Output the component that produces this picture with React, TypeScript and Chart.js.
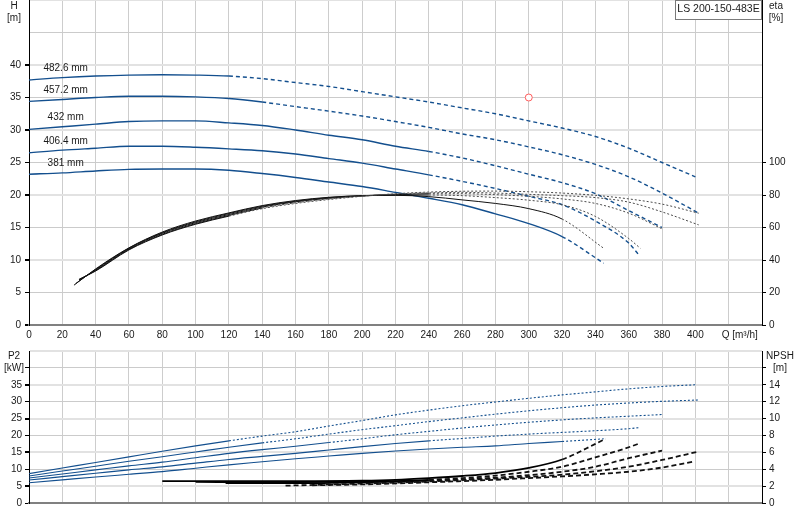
import { useEffect, useRef } from 'react'
import { Chart, registerables } from 'chart.js'
import type { ChartOptions, Plugin } from 'chart.js'

Chart.register(...registerables)

// 葉輪直徑 (from largest to smallest)
const DIAMETERS = ['482.6 mm', '457.2 mm', '432 mm', '406.4 mm', '381 mm']
const PUMP_NAME = 'LS 200-150-483E'

// Q [m³/h] for the H and P2 curves
const Q_482 = [0, 20, 40, 60, 80, 100, 120, 140, 160, 180, 200, 220, 240, 260, 280, 300, 320, 340, 360, 380, 400]
const Q_457 = [0, 20, 40, 60, 80, 100, 120, 140, 160, 180, 200, 220, 240, 260, 280, 300, 320, 340, 360, 380, 402]
const Q_432 = [0, 20, 40, 60, 80, 100, 120, 140, 160, 180, 200, 220, 240, 260, 280, 300, 320, 340, 360, 380]
const Q_406 = [0, 20, 40, 60, 80, 100, 120, 140, 160, 180, 200, 220, 240, 260, 280, 300, 320, 340, 360, 366]
const Q_381 = [0, 20, 40, 60, 80, 100, 120, 140, 160, 180, 200, 220, 240, 260, 280, 300, 320, 345]

// H [m]
const H_482 = [37.7, 38.05, 38.3, 38.45, 38.5, 38.45, 38.3, 37.9, 37.3, 36.7, 35.9, 35.1, 34.3, 33.4, 32.5, 31.4, 30.3, 29.0, 27.2, 25.0, 22.8]
const H_457 = [34.4, 34.7, 35.0, 35.2, 35.2, 35.1, 34.85, 34.3, 33.6, 32.9, 32.15, 31.3, 30.4, 29.4, 28.5, 27.4, 26.2, 24.7, 22.8, 20.3, 17.2]
const H_432 = [30.1, 30.5, 30.9, 31.3, 31.4, 31.4, 31.1, 30.7, 30.0, 29.2, 28.5, 27.5, 26.7, 25.7, 24.5, 23.2, 21.9, 20.2, 17.6, 15.0]
const H_406 = [26.5, 26.9, 27.2, 27.5, 27.5, 27.35, 27.1, 26.8, 26.3, 25.6, 24.9, 24.0, 23.1, 22.1, 21.0, 19.8, 18.5, 16.0, 12.6, 10.8]
const H_381 = [23.2, 23.4, 23.7, 23.95, 24.0, 24.0, 23.8, 23.3, 22.7, 22.0, 21.3, 20.4, 19.5, 18.5, 17.1, 15.6, 13.6, 9.5]

// P2 [kW]
const P2_482 = [8.7, 10.35, 12.0, 13.65, 15.3, 16.9, 18.4, 19.8, 21.1, 22.8, 24.4, 26.1, 27.5, 28.8, 29.9, 31.0, 32.0, 32.9, 33.8, 34.5, 35.0]
const P2_457 = [8.0, 9.45, 10.9, 12.35, 13.7, 15.1, 16.5, 17.8, 19.0, 20.4, 21.7, 22.9, 24.1, 25.2, 26.3, 27.3, 28.2, 29.0, 29.6, 30.1, 30.5]
const P2_432 = [7.4, 8.6, 9.8, 11.0, 12.1, 13.4, 14.7, 15.8, 16.8, 17.9, 19.0, 20.2, 21.2, 22.2, 23.1, 23.9, 24.6, 25.2, 25.7, 26.2]
const P2_406 = [6.8, 7.8, 8.8, 9.8, 10.7, 11.8, 12.9, 13.8, 14.7, 15.7, 16.7, 17.6, 18.4, 19.1, 19.8, 20.4, 20.9, 21.4, 22.0, 22.3]
const P2_381 = [6.0, 6.85, 7.7, 8.5, 9.3, 10.3, 11.3, 12.2, 13.1, 13.9, 14.7, 15.4, 16.0, 16.5, 16.9, 17.6, 18.2, 19.0]

// eta [%]
const ETA_Q_482 = [30, 40, 60, 80, 100, 120, 140, 160, 180, 200, 220, 240, 260, 280, 300, 320, 340, 360, 380, 402]
const ETA_482 = [28, 33.2, 46.2, 55.4, 62.0, 67.0, 71.6, 74.8, 77.2, 79.2, 80.8, 81.8, 82.3, 82.4, 82.0, 81.2, 79.8, 77.6, 74.4, 68.8]
const ETA_Q_457 = [30, 40, 60, 80, 100, 120, 140, 160, 180, 200, 220, 240, 260, 280, 300, 320, 340, 360, 380, 402]
const ETA_457 = [28, 33.5, 46.6, 55.8, 62.4, 67.4, 72.0, 75.2, 77.6, 79.4, 80.6, 81.3, 81.6, 81.2, 80.4, 79.6, 78.4, 75.6, 69.6, 61.6]
const ETA_Q_432 = [30, 40, 60, 80, 100, 120, 140, 160, 180, 200, 220, 240, 260, 280, 300, 320, 340, 360, 380]
const ETA_432 = [27.5, 33.8, 47.0, 56.4, 63.0, 68.0, 72.6, 75.8, 78.0, 79.4, 80.2, 80.8, 80.8, 80.2, 79.2, 77.6, 74.8, 68.8, 59.2]
const ETA_Q_406 = [28, 40, 60, 80, 100, 120, 140, 160, 180, 200, 220, 240, 260, 280, 300, 320, 340, 360, 367]
const ETA_406 = [25.5, 34.2, 47.3, 56.8, 63.5, 68.6, 73.1, 76.2, 78.4, 79.6, 80.0, 80.0, 79.6, 78.4, 76.8, 74.0, 66.8, 53.2, 47.2]
const ETA_Q_381 = [27, 40, 60, 80, 100, 120, 140, 160, 180, 200, 220, 240, 260, 280, 300, 320, 345]
const ETA_381 = [24.5, 34.5, 47.5, 57.2, 64.0, 69.0, 73.5, 76.6, 78.6, 79.6, 79.8, 79.0, 77.0, 74.8, 71.6, 65.2, 47.2]

// NPSH [m]
const NPSH_Q_482 = [170, 200, 240, 280, 300, 320, 340, 360, 380, 399]
const NPSH_482 = [2.1, 2.2, 2.45, 2.75, 2.95, 3.15, 3.4, 3.7, 4.2, 4.9]
const NPSH_Q_457 = [154, 200, 240, 280, 300, 320, 340, 360, 380, 402]
const NPSH_457 = [2.05, 2.3, 2.55, 2.9, 3.1, 3.35, 3.76, 4.3, 5.1, 6.1]
const NPSH_Q_432 = [118, 160, 200, 240, 280, 300, 320, 340, 360, 380]
const NPSH_432 = [2.35, 2.35, 2.45, 2.65, 3.0, 3.3, 3.7, 4.3, 5.3, 6.2]
const NPSH_Q_406 = [100, 140, 180, 220, 240, 260, 280, 300, 320, 340, 360, 367]
const NPSH_406 = [2.5, 2.45, 2.5, 2.6, 2.75, 2.95, 3.25, 3.7, 4.3, 5.4, 6.6, 7.1]
const NPSH_Q_381 = [80, 120, 160, 200, 220, 240, 260, 280, 300, 320, 340, 346]
const NPSH_381 = [2.6, 2.6, 2.6, 2.65, 2.75, 2.95, 3.2, 3.55, 4.15, 5.15, 7.0, 7.6]

// end of the solid (allowed) part of each curve, Q [m³/h]
const SOLID_TO = [120, 130, 240, 222, 320]
const P2_SOLID_TO = [120, 128, 178, 222, 320]

// duty point
const DUTY_Q = [300]
const DUTY_H = [35]

const H_Q = [Q_482, Q_457, Q_432, Q_406, Q_381]
const H_V = [H_482, H_457, H_432, H_406, H_381]
const P2_V = [P2_482, P2_457, P2_432, P2_406, P2_381]
const ETA_Q = [ETA_Q_482, ETA_Q_457, ETA_Q_432, ETA_Q_406, ETA_Q_381]
const ETA_V = [ETA_482, ETA_457, ETA_432, ETA_406, ETA_381]
const NPSH_Q = [NPSH_Q_482, NPSH_Q_457, NPSH_Q_432, NPSH_Q_406, NPSH_Q_381]
const NPSH_V = [NPSH_482, NPSH_457, NPSH_432, NPSH_406, NPSH_381]

const BLUE = '#134f8e'
const FAMILY = "'Liberation Sans', Arial, sans-serif"
const TEXT = '#1a1a1a'
const TICK_FONT = { family: FAMILY, size: 10 }

const pts = (q: number[], v: number[]) => q.map((x, i) => ({ x, y: v[i] }))

function curve(
  q: number[],
  v: number[],
  limit: number,
  axis: string,
  solid: string,
  dashed: string,
  width: number,
  dash: number[],
) {
  return {
    data: pts(q, v),
    yAxisID: axis,
    borderColor: solid,
    borderWidth: width,
    pointRadius: 0,
    fill: false,
    cubicInterpolationMode: 'monotone' as const,
    segment: {
      borderDash: (c: any) => (c.p0.parsed.x >= limit ? dash : undefined),
      borderColor: (c: any) => (c.p0.parsed.x >= limit ? dashed : undefined),
    },
  }
}

const xAxis = (height: number, labels: boolean): any => ({
  type: 'linear',
  min: 0,
  max: 440,
  ticks: {
    display: labels,
    stepSize: 20,
    autoSkip: false,
    maxRotation: 0,
    padding: 4,
    color: TEXT,
    font: TICK_FONT,
    callback: (v: any) => (v <= 400 ? String(v) : ''),
  },
  grid: { color: '#cdcdcd', lineWidth: 1, drawTicks: false },
  border: { color: '#808080', width: 2 },
  afterFit: (s: any) => {
    s.height = height
    s.paddingLeft = 0
    s.paddingRight = 0
  },
})

const yAxis = (
  position: 'left' | 'right',
  max: number,
  step: number,
  lastLabel: number,
  width: number,
  padding: number,
  onChart: boolean,
  thick: (v: number) => boolean,
  markTo: number,
): any => ({
  position,
  min: 0,
  max,
  ticks: {
    stepSize: step,
    padding,
    color: TEXT,
    font: TICK_FONT,
    callback: (v: any) => (v <= lastLabel ? String(v) : ''),
  },
  grid: {
    drawOnChartArea: onChart,
    tickLength: 4,
    tickColor: (c: any) => (c.tick && c.tick.value <= markTo ? '#000' : 'rgba(0,0,0,0)'),
    color: (c: any) => (c.tick && thick(c.tick.value) ? '#e2e2e2' : '#cbcbcb'),
    lineWidth: (c: any) => (c.tick && thick(c.tick.value) ? 2 : 1),
  },
  border: { color: '#000', width: 1 },
  afterFit: (s: any) => {
    s.width = width
    s.paddingTop = 0
    s.paddingBottom = 0
  },
})

const topText: Plugin = {
  id: 'topText',
  afterDraw(chart) {
    const { ctx, chartArea } = chart
    const x = chart.scales.x
    const y = chart.scales.y
    ctx.save()
    ctx.font = `10px ${FAMILY}`
    ctx.fillStyle = TEXT
    ctx.textAlign = 'center'
    ctx.textBaseline = 'middle'
    ctx.fillText('H', chartArea.left - 15, chartArea.top + 6)
    ctx.fillText('[m]', chartArea.left - 15, chartArea.top + 18)
    ctx.fillText('eta', chartArea.right + 14, chartArea.top + 6)
    ctx.fillText('[%]', chartArea.right + 14, chartArea.top + 18)

    // curve names, a little above each H curve at Q = 22
    H_V.forEach((h, i) => {
      const v = h[1] + (h[2] - h[1]) * 0.1
      ctx.fillText(DIAMETERS[i], x.getPixelForValue(22), y.getPixelForValue(v) - 9)
    })

    ctx.textAlign = 'left'
    ctx.fillText('Q [m³/h]', x.getPixelForValue(420) - 7, chartArea.bottom + 10)

    // pump name box
    const bw = 87
    const bh = 19
    ctx.fillStyle = '#fff'
    ctx.fillRect(chartArea.right - bw, chartArea.top, bw, bh)
    ctx.strokeStyle = '#7a7a7a'
    ctx.lineWidth = 1
    ctx.strokeRect(chartArea.right - bw + 0.5, chartArea.top + 0.5, bw - 1, bh)
    ctx.fillStyle = TEXT
    ctx.font = `10.5px ${FAMILY}`
    ctx.textAlign = 'center'
    ctx.fillText(PUMP_NAME, chartArea.right - bw / 2, chartArea.top + 9)
    ctx.restore()
  },
}

const bottomText: Plugin = {
  id: 'bottomText',
  afterDraw(chart) {
    const { ctx, chartArea } = chart
    const y = chart.scales.y
    const n = chart.scales.npsh
    ctx.save()
    ctx.font = `10px ${FAMILY}`
    ctx.fillStyle = TEXT
    ctx.textAlign = 'center'
    ctx.textBaseline = 'middle'
    ctx.fillText('P2', chartArea.left - 15, chartArea.top + 5)
    ctx.fillText('[kW]', chartArea.left - 15, y.getPixelForValue(40))
    ctx.fillText('NPSH', chartArea.right + 18, chartArea.top + 5)
    ctx.fillText('[m]', chartArea.right + 18, n.getPixelForValue(16))
    ctx.restore()
  },
}

function TopChart() {
  const chartRef = useRef<HTMLCanvasElement>(null)
  const chartInstance = useRef<Chart | null>(null)

  useEffect(() => {
    if (!chartRef.current) return
    if (chartInstance.current) chartInstance.current.destroy()
    const ctx = chartRef.current.getContext('2d')
    if (!ctx) return

    const etaSets = ETA_V.map((v, i) =>
      curve(ETA_Q[i], v, SOLID_TO[i], 'eta', '#111', '#4a4a4a', 1, [2, 2]),
    )
    const hSets = H_V.map((v, i) =>
      curve(H_Q[i], v, SOLID_TO[i], 'y', BLUE, BLUE, 1.4, [4, 3]),
    )
    const duty = {
      data: pts(DUTY_Q, DUTY_H),
      yAxisID: 'y',
      showLine: false,
      pointRadius: 3.5,
      pointBorderWidth: 1,
      pointBorderColor: '#ff5b5b',
      pointBackgroundColor: '#fff',
      borderColor: '#ff5b5b',
    }

    const options: ChartOptions = {
      responsive: true,
      maintainAspectRatio: false,
      animation: false,
      events: [],
      layout: { padding: 0, autoPadding: false },
      plugins: { legend: { display: false }, tooltip: { enabled: false } },
      scales: {
        x: xAxis(20, true),
        y: yAxis('left', 50, 5, 40, 29, 4, true, (v) => v % 10 === 0, 40),
        eta: yAxis('right', 200, 20, 100, 38, 3, false, () => false, 100),
      },
    }

    chartInstance.current = new Chart(ctx, {
      type: 'line',
      data: { datasets: [...etaSets, ...hSets, duty] as any },
      options,
      plugins: [topText],
    })

    return () => {
      if (chartInstance.current) chartInstance.current.destroy()
    }
  }, [])

  return (
    <div style={{ position: 'absolute', left: 0, top: 0, width: 800, height: 345 }}>
      <canvas ref={chartRef} />
    </div>
  )
}

function BottomChart() {
  const chartRef = useRef<HTMLCanvasElement>(null)
  const chartInstance = useRef<Chart | null>(null)

  useEffect(() => {
    if (!chartRef.current) return
    if (chartInstance.current) chartInstance.current.destroy()
    const ctx = chartRef.current.getContext('2d')
    if (!ctx) return

    const p2Sets = P2_V.map((v, i) =>
      curve(H_Q[i], v, P2_SOLID_TO[i], 'y', BLUE, BLUE, 1.1, [2, 2]),
    )
    const npshSets = NPSH_V.map((v, i) =>
      curve(NPSH_Q[i], v, SOLID_TO[i], 'npsh', '#000', '#111', 1.8, [5, 3]),
    )

    const options: ChartOptions = {
      responsive: true,
      maintainAspectRatio: false,
      animation: false,
      events: [],
      layout: { padding: { top: 11, left: 0, right: 0, bottom: 0 }, autoPadding: false },
      plugins: { legend: { display: false }, tooltip: { enabled: false } },
      scales: {
        x: xAxis(17, false),
        y: yAxis('left', 45, 5, 35, 29, 3, true, (v) => v % 10 === 5, 40),
        npsh: yAxis('right', 18, 2, 14, 38, 3, false, () => false, 16),
      },
    }

    chartInstance.current = new Chart(ctx, {
      type: 'line',
      data: { datasets: [...p2Sets, ...npshSets] as any },
      options,
      plugins: [bottomText],
    })

    return () => {
      if (chartInstance.current) chartInstance.current.destroy()
    }
  }, [])

  return (
    <div style={{ position: 'absolute', left: 0, top: 340, width: 800, height: 180 }}>
      <canvas ref={chartRef} />
    </div>
  )
}

export default function App() {
  return (
    <div
      style={{
        position: 'fixed',
        left: 0,
        top: 0,
        width: 800,
        height: 520,
        background: '#fff',
        overflow: 'hidden',
      }}
    >
      <TopChart />
      <BottomChart />
    </div>
  )
}
